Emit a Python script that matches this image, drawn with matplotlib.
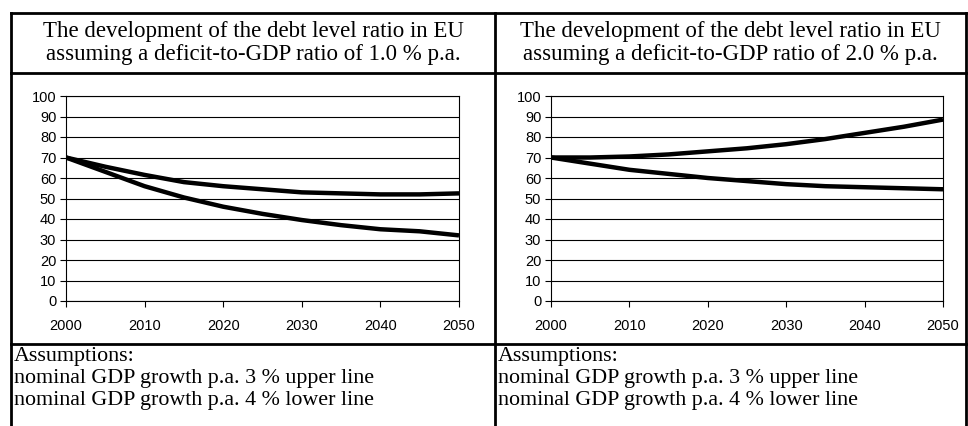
import matplotlib
matplotlib.use("Agg")
import matplotlib.pyplot as plt
from matplotlib.lines import Line2D

# data (debt level ratio, % of GDP)
years = [2000, 2005, 2010, 2015, 2020, 2025, 2030, 2035, 2040, 2045, 2050]

left_upper = [70, 65.5, 61.5, 58, 56, 54.5, 53, 52.5, 52, 52, 52.5]
left_lower = [70, 63, 56, 50.5, 46, 42.5, 39.5, 37, 35, 34, 32]

right_upper = [70, 70, 70.5, 71.5, 73, 74.5, 76.5, 79, 82, 85, 88.5]
right_lower = [70, 67, 64, 62, 60, 58.5, 57, 56, 55.5, 55, 54.5]

headers = [
    "The development of the debt level ratio in EU\nassuming a deficit-to-GDP ratio of 1.0 % p.a.",
    "The development of the debt level ratio in EU\nassuming a deficit-to-GDP ratio of 2.0 % p.a.",
]
assumptions = ("Assumptions:\n"
               "nominal GDP growth p.a. 3 % upper line\n"
               "nominal GDP growth p.a. 4 % lower line")

W, H = 968, 426
fig = plt.figure(figsize=(W / 100, H / 100), dpi=100)
fig.patch.set_facecolor("white")


def px(x, y):
    # pixel coords -> figure fraction
    return x / W, 1 - y / H


def hline(y, x0, x1, lw=2.0):
    (a, b), (c, _) = px(x0, y), px(x1, y)
    fig.add_artist(Line2D([a, c], [b, b], color="black", lw=lw))


def vline(x, y0, y1, lw=2.0):
    (a, b), (_, d) = px(x, y0), px(x, y1)
    fig.add_artist(Line2D([a, a], [b, d], color="black", lw=lw))


# table frame
left_x, mid_x, right_x = 11, 495, 966
top_y, head_y, chart_y = 13, 73, 344
hline(top_y, left_x, right_x)
hline(head_y, left_x, right_x)
hline(chart_y, left_x, right_x)
vline(left_x, top_y, H + 5)
vline(mid_x, top_y, H + 5)
vline(right_x, top_y, H + 5)

serif = ["Liberation Serif", "DejaVu Serif"]
for cx, txt in zip([(left_x + mid_x) / 2, (mid_x + right_x) / 2], headers):
    fx, fy = px(cx, (top_y + head_y) / 2)
    fig.text(fx, fy, txt, ha="center", va="center", family=serif,
             fontsize=16.5, linespacing=1.08)

for x0 in [left_x + 3, mid_x + 3]:
    fx, fy = px(x0, chart_y + 3)
    fig.text(fx, fy, assumptions, ha="left", va="top", family=serif,
             fontsize=15.8, linespacing=1.2)


def draw_chart(rect, upper, lower):
    ax = fig.add_axes(rect)
    ax.plot(years, upper, color="black", lw=3.2, solid_capstyle="butt")
    ax.plot(years, lower, color="black", lw=3.2, solid_capstyle="butt")
    ax.set_xlim(2000, 2050)
    ax.set_ylim(0, 100)
    ax.set_xticks(range(2000, 2051, 10))
    ax.set_yticks(range(0, 101, 10))
    ax.yaxis.grid(True, color="black", lw=0.8)
    ax.set_axisbelow(True)
    for s in ax.spines.values():
        s.set_linewidth(0.8)
        s.set_color("black")
    ax.tick_params(axis="both", direction="out", length=4, width=0.8,
                   labelsize=10.5, pad=3)
    ax.tick_params(axis="x", pad=9)
    for lab in ax.get_xticklabels() + ax.get_yticklabels():
        lab.set_family(["Liberation Sans", "DejaVu Sans"])
    return ax


y_bot, y_top = 301, 96
l0, l1 = px(66, y_bot), px(459, y_top)
r0, r1 = px(551, y_bot), px(943, y_top)
draw_chart([l0[0], l0[1], l1[0] - l0[0], l1[1] - l0[1]], left_upper, left_lower)
draw_chart([r0[0], r0[1], r1[0] - r0[0], r1[1] - r0[1]], right_upper, right_lower)

fig.savefig("out.png", dpi=100)
